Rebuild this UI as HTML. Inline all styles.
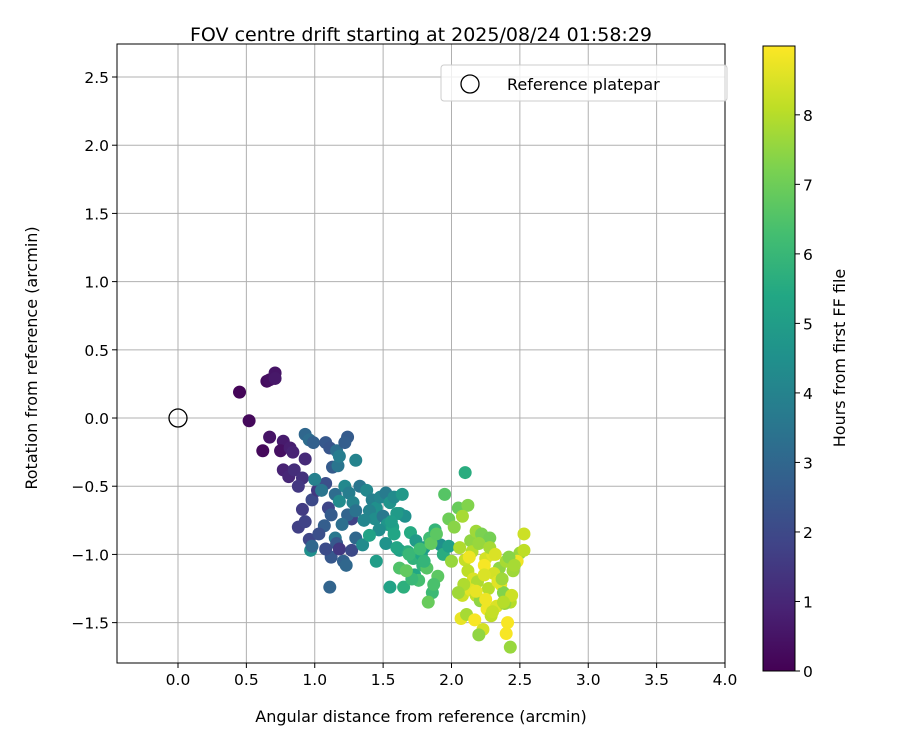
<!DOCTYPE html>
<html><head><meta charset="utf-8"><style>
body{margin:0;background:#fff;font-family:"Liberation Sans","DejaVu Sans",sans-serif}
svg text{font-family:"DejaVu Sans","Liberation Sans",sans-serif;fill:#000}
</style></head><body>
<svg id="chart" width="900" height="750" xmlns="http://www.w3.org/2000/svg">
<rect width="900" height="750" fill="#fff"/>
<text x="421" y="41" font-size="19" text-anchor="middle">FOV centre drift starting at 2025/08/24 01:58:29</text>
<g id="grid"></g>
<g id="points"></g>
<g id="axes"></g>
<g id="cbar"></g>
<g>
<rect x="441" y="65" width="286" height="36" rx="3" fill="#fff" fill-opacity="0.8" stroke="#ccc"/>
<circle cx="470" cy="84" r="9" fill="none" stroke="#000" stroke-width="1.3"/>
<text x="507" y="90" font-size="16">Reference platepar</text>
</g>
<text x="421" y="722" font-size="16" text-anchor="middle">Angular distance from reference (arcmin)</text>
<text transform="translate(37,358) rotate(-90)" font-size="16" text-anchor="middle">Rotation from reference (arcmin)</text>
<text transform="translate(845,358) rotate(-90)" font-size="16" text-anchor="middle">Hours from first FF file</text>
</svg>
<script>
const xTicks=[0.0,0.5,1.0,1.5,2.0,2.5,3.0,3.5,4.0];
const yTicks=[-1.5,-1.0,-0.5,0.0,0.5,1.0,1.5,2.0,2.5];
const cTicks=[0,1,2,3,4,5,6,7,8];
const ptX=[0.45,0.52,0.65,0.67,0.71,0.71,0.62,0.67,0.77,0.75,0.82,0.77,0.81,0.85,0.93,0.91,0.84,0.88,0.91,0.88,0.93,0.96,0.98,1.02,0.93,0.96,0.99,1.08,1.11,1.16,1.24,1.22,1.13,1.17,1.18,1.30,1.08,1.05,1.10,1.00,1.12,1.15,1.18,1.22,1.27,1.24,1.20,1.15,1.16,1.07,0.97,0.98,1.03,1.12,1.18,1.21,1.23,1.08,1.27,1.30,1.35,1.11,
1.25,1.28,1.33,1.38,1.42,1.45,1.48,1.52,1.55,1.58,1.62,1.66,1.40,1.44,1.50,1.53,1.57,1.60,1.30,1.36,1.47,1.56,1.64,1.52,1.58,1.62,1.70,1.74,1.68,1.72,1.78,1.80,1.84,1.88,1.92,1.40,1.45,1.60,1.55,1.62,1.65,1.69,1.73,1.76,1.79,1.82,1.86,1.90,1.94,1.98,1.87,1.83,1.80,1.77,1.71,1.67,1.85,1.89,
1.95,2.10,2.05,2.12,1.98,2.02,2.00,2.08,2.14,2.18,2.22,2.28,2.06,2.10,2.15,2.20,2.25,2.30,2.35,2.40,2.45,2.50,2.53,2.48,2.12,2.16,2.19,2.24,2.27,2.31,2.36,2.42,2.46,2.08,2.14,2.18,2.21,2.26,2.33,2.38,2.43,2.07,2.11,2.17,2.23,2.29,2.34,2.39,2.44,2.09,2.20,2.25,2.30,2.37,2.41,2.24,2.13,2.18,2.40,2.43,2.38,2.28,2.32,2.53,2.05,2.22,2.15];
const ptY=[0.19,-0.02,0.27,0.28,0.33,0.29,-0.24,-0.14,-0.17,-0.24,-0.22,-0.38,-0.43,-0.38,-0.30,-0.44,-0.25,-0.50,-0.67,-0.80,-0.76,-0.89,-0.60,-0.53,-0.12,-0.16,-0.18,-0.18,-0.22,-0.24,-0.14,-0.18,-0.36,-0.35,-0.28,-0.31,-0.48,-0.53,-0.66,-0.45,-0.71,-0.56,-0.61,-0.50,-0.74,-0.71,-0.78,-0.88,-0.92,-0.79,-0.97,-0.94,-0.85,-1.02,-0.96,-1.05,-1.08,-0.96,-0.97,-0.88,-0.93,-1.24,
-0.55,-0.62,-0.50,-0.53,-0.60,-0.66,-0.58,-0.55,-0.62,-0.58,-0.70,-0.72,-0.68,-0.74,-0.72,-0.78,-0.80,-0.70,-0.68,-0.75,-0.82,-0.76,-0.56,-0.92,-0.85,-0.97,-0.84,-0.90,-0.98,-1.03,-1.00,-0.95,-0.88,-0.82,-0.93,-0.86,-1.05,-0.95,-1.24,-1.10,-1.24,-1.00,-1.15,-1.19,-1.08,-1.10,-1.28,-1.16,-1.00,-0.94,-1.22,-1.35,-1.05,-0.96,-1.18,-1.12,-0.92,-0.85,
-0.56,-0.40,-0.66,-0.64,-0.74,-0.80,-1.05,-0.72,-0.90,-0.83,-0.85,-0.88,-0.95,-1.04,-0.98,-0.92,-1.03,-1.00,-1.10,-1.05,-1.12,-0.99,-0.85,-1.05,-1.12,-1.18,-1.20,-1.08,-1.25,-1.14,-1.22,-1.02,-1.08,-1.30,-1.26,-1.30,-1.34,-1.40,-1.38,-1.28,-1.35,-1.47,-1.44,-1.48,-1.55,-1.45,-1.20,-1.36,-1.30,-1.22,-1.59,-1.33,-1.42,-1.18,-1.50,-1.15,-1.02,-1.27,-1.58,-1.68,-1.35,-0.95,-1.00,-0.97,-1.28,-1.10,-1.45];
const ptH=[0.1,0.2,0.3,0.4,0.5,0.6,0.2,0.5,0.7,0.4,0.8,0.9,1.0,1.2,1.1,1.3,0.9,1.5,1.6,1.7,1.8,1.9,2.0,1.5,3.0,3.2,2.8,2.5,2.4,3.3,2.6,2.7,2.6,3.5,3.8,4.0,2.2,3.5,1.9,3.9,2.6,3.2,4.3,4.2,1.8,2.9,3.3,3.6,2.5,2.7,4.5,3.0,2.2,2.5,1.5,2.8,3.0,2.1,2.0,3.0,4.3,2.9,
3.8,4.0,3.5,4.2,3.9,4.5,4.1,3.7,4.6,4.3,4.8,4.5,4.0,4.4,3.6,4.7,5.2,4.9,3.4,4.1,4.4,5.0,4.8,4.6,5.3,5.1,5.5,4.9,5.6,5.8,5.4,5.0,6.2,5.9,4.5,5.2,5.0,5.3,5.2,6.5,5.7,6.0,5.4,6.3,5.8,6.6,6.1,6.7,5.6,5.1,6.4,6.9,5.9,6.2,6.0,6.8,
6.8,6.7,6.6,5.6,6.9,7.3,7.0,7.4,7.6,7.8,7.5,7.7,7.2,7.1,7.9,8.2,8.0,7.6,8.4,8.6,7.5,7.8,7.7,7.6,8.3,8.8,8.1,8.5,7.9,8.9,8.0,8.4,8.7,7.4,7.8,8.3,8.6,8.2,7.5,8.8,8.5,7.3,8.0,8.7,7.8,8.9,8.4,8.1,8.6,7.6,8.3,7.9,7.5,8.8,8.2,7.7,8.9,8.5,8.8,8.7,8.9,7.6,8.0,7.8,8.5,8.1,7.7];
const L=117,R=725,T=44,B=663,xMin=-0.446,xMax=4.0,yMin=-1.796,yMax=2.742;
const sx=v=>L+(v-xMin)/(xMax-xMin)*(R-L);
const sy=v=>B-(v-yMin)/(yMax-yMin)*(B-T);
const CT=46,CB=671,cMax=8.99,cy=v=>CB-v/cMax*(CB-CT);
const vir=[[68,1,84],[72,35,116],[64,67,135],[52,94,141],[41,120,142],[32,144,140],[34,167,132],[68,190,112],[121,209,81],[189,222,38],[253,231,37]];
function col(t){t=Math.max(0,Math.min(1,t))*(vir.length-1);const i=Math.min(Math.floor(t),vir.length-2),f=t-i;const c=vir[i].map((a,k)=>Math.round(a+(vir[i+1][k]-a)*f));return `rgb(${c})`;}
const NS="http://www.w3.org/2000/svg";
function mk(p,tag,at){const e=document.createElementNS(NS,tag);for(const k in at)e.setAttribute(k,at[k]);p.appendChild(e);return e;}
const grid=document.getElementById('grid'),axes=document.getElementById('axes'),pts=document.getElementById('points'),cb=document.getElementById('cbar');
xTicks.forEach(v=>{const x=sx(v);
const g=mk(grid,'line',{x1:x,x2:x,y1:T,y2:B,stroke:'#b0b0b0','stroke-width':1});


mk(axes,'line',{x1:x,x2:x,y1:B,y2:B+5,stroke:'#000'});
const t=mk(axes,'text',{x:x,y:B+22,'font-size':15.5,'text-anchor':'middle'});t.textContent=v.toFixed(1);

});
yTicks.forEach(v=>{const y=sy(v);
const g=mk(grid,'line',{x1:L,x2:R,y1:y,y2:y,stroke:'#b0b0b0','stroke-width':1});


mk(axes,'line',{x1:L-5,x2:L,y1:y,y2:y,stroke:'#000'});
const t=mk(axes,'text',{x:L-8,y:y+6,'font-size':15.5,'text-anchor':'end'});t.textContent=(v<0?'\u2212':'')+Math.abs(v).toFixed(1);

});
mk(axes,'rect',{x:L,y:T,width:R-L,height:B-T,fill:'none',stroke:'#000','stroke-width':1});
const ref=mk(pts,'circle',{cx:sx(0),cy:sy(0),r:9,fill:'none',stroke:'#000','stroke-width':1.3});


ptH.forEach((h,i)=>{const c=mk(pts,'circle',{cx:sx(ptX[i]),cy:sy(ptY[i]),r:6.5,fill:col(h/cMax)});

});
const defs=mk(cb,'defs',{});const lg=mk(defs,'linearGradient',{id:'vg',x1:0,y1:1,x2:0,y2:0});
vir.forEach((c,i)=>mk(lg,'stop',{offset:i/(vir.length-1),'stop-color':`rgb(${c})`}));
const bar=mk(cb,'rect',{x:763,y:CT,width:32,height:CB-CT,fill:'url(#vg)',stroke:'#000','stroke-width':1});


cTicks.forEach(v=>{const y=cy(v);mk(cb,'line',{x1:795,x2:800,y1:y,y2:y,stroke:'#000'});
const t=mk(cb,'text',{x:803,y:y+6,'font-size':15.5});t.textContent=v;

});
</script>
</body></html>
